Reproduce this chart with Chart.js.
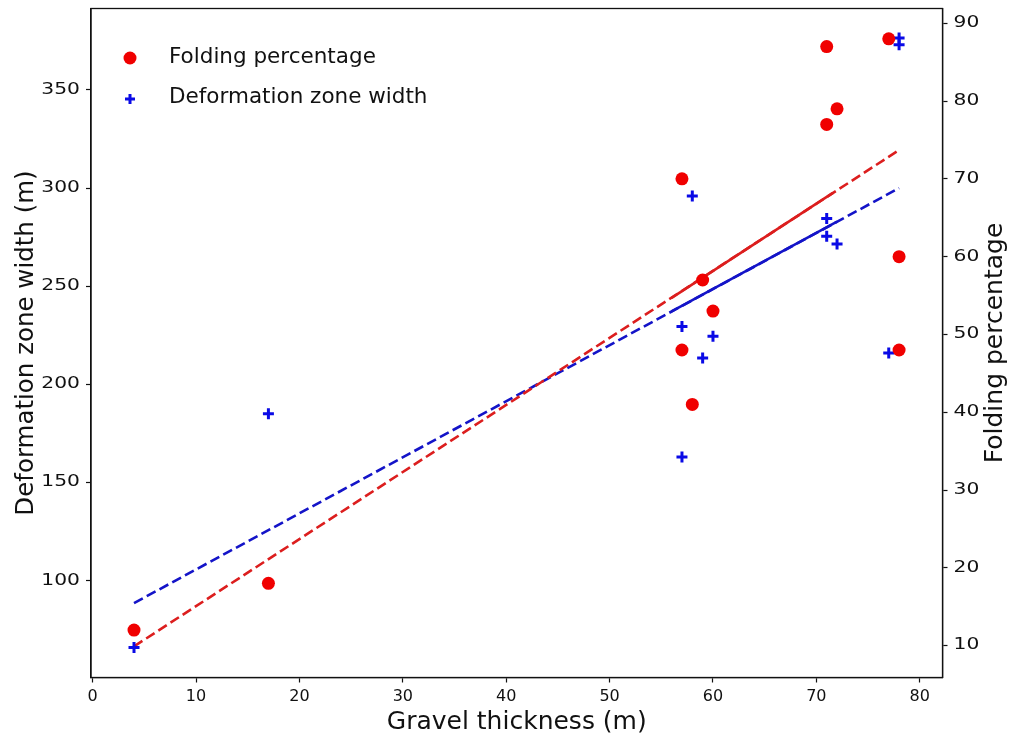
<!DOCTYPE html>
<html>
<head>
<meta charset="utf-8">
<script src="https://cdn.jsdelivr.net/npm/chart.js@4.4.1/dist/chart.umd.min.js"></script>
<style>
  html, body { margin: 0; padding: 0; background: #fff; }
  #wrap { width: 1011px; height: 740px; }
</style>
</head>
<body>
<div id="wrap"><canvas id="c" width="1011" height="740"></canvas></div>
<script>
// ---- data ----
const foldX = [4, 17, 57, 57, 58, 59, 60, 71, 71, 72, 77, 78, 78];
const foldY = [12, 18, 70, 48, 41, 57, 53, 87, 77, 79, 88, 60, 48];
const widthX = [4, 17, 57, 57, 58, 59, 60, 71, 71, 72, 77, 78, 78];
const widthY = [66, 185, 229.5, 163, 296, 213.5, 224.5, 284.5, 275.5, 271.5, 216, 376.5, 373];

// fitted trend lines (end points)
const foldFitX = [4, 78];
const foldFitY = [9.9, 73.7];
const foldSolidX = [56, 71.6];
const foldSolidY = [54.7, 68.2];
const widthFitX = [4, 78];
const widthFitY = [88.6, 300];
const widthSolidX = [56, 72];
const widthSolidY = [237.2, 282.9];

// tick labels
const xTicks = [0, 10, 20, 30, 40, 50, 60, 70, 80];
const yLeftTicks = [100, 150, 200, 250, 300, 350];
const yRightTicks = [10, 20, 30, 40, 50, 60, 70, 80, 90];

const seriesNames = ['Folding percentage', 'Deformation zone width'];
const axisTitles = { x: 'Gravel thickness (m)', yLeft: 'Deformation zone width (m)', yRight: 'Folding percentage' };

const RED = '#f00000';
const RED_LINE = '#dc1e1e';
const BLUE = '#0a0ae6';
const BLUE_LINE = '#1414c8';
const FONT = 'DejaVu Sans';
const INK = '#111';

const pts = (xs, ys) => xs.map((x, i) => ({ x: x, y: ys[i] }));

const boxPlugin = {
  id: 'box',
  afterDraw(chart) {
    const { ctx, chartArea: a } = chart;
    ctx.save();
    ctx.strokeStyle = INK;
    ctx.lineWidth = 1.3;
    ctx.strokeRect(a.left, a.top, a.right - a.left, a.bottom - a.top);

    // y tick labels (the reference draws them slightly wide)
    ctx.fillStyle = INK;
    ctx.font = '15px "' + FONT + '"';
    ctx.textBaseline = 'middle';
    const sy = chart.scales.y, sy1 = chart.scales.y1;
    const k = 1.35;
    ctx.textAlign = 'right';
    yLeftTicks.forEach(v => {
      ctx.save();
      ctx.translate(sy.right - 11, sy.getPixelForValue(v));
      ctx.scale(k, 1);
      ctx.fillText(String(v), 0, 0);
      ctx.restore();
    });
    ctx.textAlign = 'left';
    yRightTicks.forEach(v => {
      ctx.save();
      ctx.translate(sy1.left + 11, sy1.getPixelForValue(v));
      ctx.scale(k, 1);
      ctx.fillText(String(v), 0, 0);
      ctx.restore();
    });

    // right axis title (reads bottom to top)
    ctx.font = '25px "' + FONT + '"';
    ctx.textAlign = 'center';
    ctx.textBaseline = 'middle';
    ctx.translate(995, (a.top + a.bottom) / 2);
    ctx.rotate(-Math.PI / 2);
    ctx.fillText(axisTitles.yRight, 0, 0);
    ctx.restore();

    // legend
    ctx.save();
    ctx.font = '21.5px "' + FONT + '"';
    ctx.fillStyle = INK;
    ctx.textAlign = 'left';
    ctx.textBaseline = 'middle';
    ctx.fillText(seriesNames[0], 169, 57);
    ctx.fillText(seriesNames[1], 169, 97.5);
    ctx.fillStyle = RED;
    ctx.beginPath();
    ctx.arc(130, 58, 6.5, 0, Math.PI * 2);
    ctx.fill();
    ctx.strokeStyle = BLUE;
    ctx.lineWidth = 3;
    ctx.beginPath();
    ctx.moveTo(125, 99); ctx.lineTo(135, 99);
    ctx.moveTo(130, 94); ctx.lineTo(130, 104);
    ctx.stroke();
    ctx.restore();
  }
};

const tickCfg = { color: INK, font: { family: FONT, size: 16 } };
const gridCfg = { drawOnChartArea: false, tickLength: 5, tickColor: INK, tickWidth: 1.2 };
const borderCfg = { display: true, color: INK, width: 1.3 };

new Chart(document.getElementById('c'), {
  type: 'scatter',
  data: {
    datasets: [
      { label: seriesNames[0], data: pts(foldX, foldY), yAxisID: 'y1',
        pointStyle: 'circle', pointRadius: 6.5, backgroundColor: RED, borderColor: RED, borderWidth: 0, order: 1 },
      { label: seriesNames[1], data: pts(widthX, widthY), yAxisID: 'y',
        pointStyle: 'cross', pointRadius: 5.5, borderColor: BLUE, backgroundColor: BLUE, borderWidth: 3, order: 2 },
      { type: 'line', data: pts(foldSolidX, foldSolidY), yAxisID: 'y1', borderColor: RED_LINE, borderWidth: 2.6,
        pointRadius: 0, fill: false, order: 3 },
      { type: 'line', data: pts(widthSolidX, widthSolidY), yAxisID: 'y', borderColor: BLUE_LINE, borderWidth: 2.6,
        pointRadius: 0, fill: false, order: 4 },
      { type: 'line', data: pts(foldFitX, foldFitY), yAxisID: 'y1', borderColor: RED_LINE, borderWidth: 2.6,
        borderDash: [10, 4.5], pointRadius: 0, fill: false, order: 5 },
      { type: 'line', data: pts(widthFitX, widthFitY), yAxisID: 'y', borderColor: BLUE_LINE, borderWidth: 2.6,
        borderDash: [10, 4.5], pointRadius: 0, fill: false, order: 6 }
    ]
  },
  options: {
    responsive: false,
    animation: false,
    events: [],
    layout: { padding: { top: 7.5, left: 0, right: 0, bottom: 0 } },
    plugins: { legend: { display: false }, tooltip: { enabled: false }, title: { display: false } },
    scales: {
      x: {
        type: 'linear', position: 'bottom', min: -0.16, max: 82.2,
        afterBuildTicks: s => { s.ticks = xTicks.map(v => ({ value: v })); },
        afterFit: s => { s.height = 62.5; },
        ticks: Object.assign({ padding: 5, maxRotation: 0 }, tickCfg),
        grid: gridCfg, border: borderCfg,
        title: { display: true, text: axisTitles.x, color: INK, font: { family: FONT, size: 25 }, padding: { top: 0, bottom: 2.5 } }
      },
      y: {
        type: 'linear', position: 'left', min: 50.7, max: 391.5,
        afterBuildTicks: s => { s.ticks = yLeftTicks.map(v => ({ value: v })); },
        afterFit: s => { s.width = 91; },
        ticks: Object.assign({ display: false }, tickCfg),
        grid: gridCfg, border: borderCfg,
        title: { display: true, text: axisTitles.yLeft, color: INK, font: { family: FONT, size: 24.5 }, padding: { top: 12, bottom: 0 } }
      },
      y1: {
        type: 'linear', position: 'right', min: 5.9, max: 91.9,
        afterBuildTicks: s => { s.ticks = yRightTicks.map(v => ({ value: v })); },
        afterFit: s => { s.width = 68.5; },
        ticks: Object.assign({ display: false }, tickCfg),
        grid: gridCfg, border: borderCfg
      }
    }
  },
  plugins: [boxPlugin]
});
</script>
</body>
</html>
